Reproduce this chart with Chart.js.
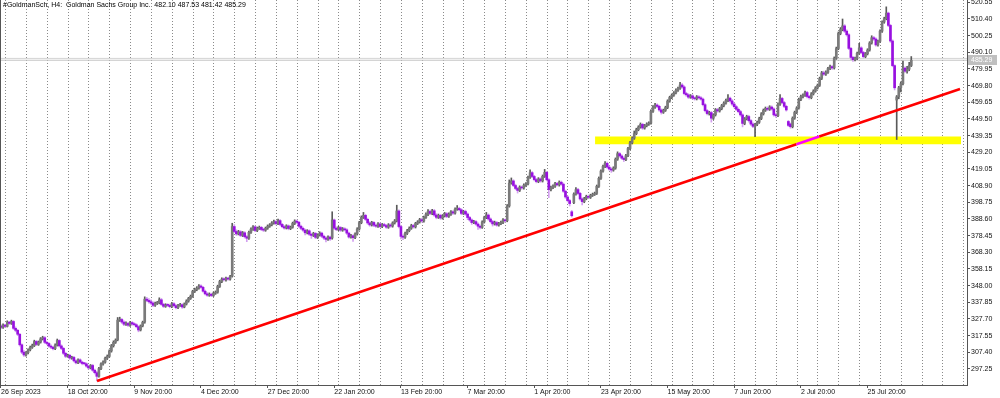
<!DOCTYPE html>
<html>
<head>
<meta charset="utf-8">
<title>#GoldmanSch, H4</title>
<script src="https://cdn.jsdelivr.net/npm/chart.js@4.4.1/dist/chart.umd.min.js"></script>
<style>
  body { margin: 0; background: #fff; }
  #wrap { position: relative; width: 1000px; height: 398px; }
  #title { position: absolute; left: 3px; top: 1px; font: 7px "Liberation Sans", Arial, sans-serif; color: #000; white-space: pre; pointer-events: none; }
</style>
</head>
<body>
<div id="wrap">
  <canvas id="chart" width="1000" height="398"></canvas>
  <div id="title">#GoldmanSch, H4:  Goldman Sachs Group Inc.  482.10 487.53 481.42 485.29</div>
</div>
<script>
// H4 bars (one entry per bar, oldest first)
var opens = [
  323.4,322.6,324.0,323.2,325.8,325.0,326.2,322.0,320.8,318.4,
  312.0,307.5,305.8,307.2,308.9,310.4,311.5,314.0,312.2,313.6,
  315.6,316.3,313.5,312.8,311.2,310.5,309.6,311.8,314.6,311.3,
  309.8,306.8,305.0,305.6,303.9,304.3,302.2,301.0,302.8,301.4,
  300.6,300.4,299.0,297.9,299.4,296.5,295.0,292.8,297.5,300.3,
  301.4,303.8,304.9,308.2,311.4,313.5,315.0,327.0,327.4,325.8,
  324.5,325.0,323.9,325.5,324.6,324.2,323.0,321.0,323.5,325.8,
  339.8,339.0,338.2,337.4,336.0,337.2,337.5,339.4,336.6,335.4,
  336.2,336.0,335.2,337.0,335.8,334.6,335.9,336.4,335.0,336.8,
  338.6,340.2,341.5,344.5,345.6,346.5,347.8,347.0,344.6,343.0,
  342.2,342.8,342.0,343.4,344.0,347.5,350.5,352.0,351.6,352.5,
  352.0,353.8,384.0,381.0,379.5,380.8,378.6,380.2,377.8,376.9,
  380.5,382.4,383.8,381.6,382.9,383.5,382.2,381.8,383.0,384.2,
  385.0,386.2,387.0,385.8,387.6,385.3,383.9,383.1,384.4,382.8,
  383.6,385.9,387.3,386.6,384.2,382.9,381.8,380.2,381.4,379.3,
  378.6,379.8,377.4,378.9,380.0,378.1,377.0,376.2,377.6,377.0,
  388.0,383.0,382.2,383.4,381.8,382.6,382.0,380.0,377.6,378.4,
  377.2,379.5,382.5,386.4,389.6,390.8,388.4,386.2,385.0,386.5,
  384.8,384.2,385.6,384.0,385.2,384.6,383.6,385.0,384.3,386.2,
  387.4,393.5,384.0,378.0,377.5,379.8,381.5,383.0,384.6,383.8,
  385.9,386.8,388.2,387.4,389.6,391.4,393.2,392.0,393.6,391.0,
  389.6,390.8,389.2,390.5,391.8,390.2,391.5,393.0,392.2,394.6,
  395.0,394.2,392.0,393.2,391.6,389.5,388.0,386.4,387.0,385.5,
  384.2,383.5,386.8,389.5,391.0,388.6,387.0,385.6,386.4,384.9,
  385.8,386.5,388.0,387.5,396.5,410.5,411.8,409.0,407.2,406.0,
  408.0,407.5,409.2,410.0,414.0,416.8,414.5,412.6,411.4,413.0,
  411.8,414.6,417.0,412.5,406.5,407.8,408.6,410.2,409.4,411.0,
  409.8,405.5,402.0,399.8,393.0,398.5,403.8,406.5,404.2,400.8,
  399.2,401.0,402.4,401.8,403.0,403.6,404.2,408.5,413.4,417.8,
  420.6,422.5,420.2,419.0,418.4,419.6,425.0,428.4,427.0,425.6,
  424.8,427.2,431.5,435.0,437.8,440.6,443.0,444.6,446.2,444.0,
  445.4,446.4,447.0,454.2,456.8,458.0,457.2,455.0,453.6,454.8,
  456.5,460.4,462.6,464.0,465.4,467.0,468.2,470.2,469.0,465.0,
  464.2,462.8,463.6,462.2,461.8,463.0,462.4,461.6,458.2,454.6,
  452.8,453.4,450.0,452.0,455.2,454.4,455.8,457.6,459.2,460.8,
  462.2,460.5,458.6,457.0,455.4,454.0,452.0,446.8,449.6,451.0,
  448.5,446.4,445.0,446.2,447.5,449.8,452.6,454.8,456.0,455.4,
  456.8,455.6,452.0,451.5,458.5,462.0,459.5,457.2,448.0,446.5,
  444.8,450.0,453.5,456.2,461.4,463.2,464.0,465.6,463.2,462.5,
  464.8,466.5,468.4,470.0,474.2,477.6,476.8,478.0,480.2,481.4,
  480.6,486.5,492.4,501.6,504.0,506.2,503.0,500.8,492.5,487.0,
  485.6,486.4,489.5,492.8,490.0,487.5,489.2,491.5,495.8,499.0,
  498.2,494.6,496.8,503.0,508.5,510.6,514.0,506.5,497.0,482.0,
  461.0,463.0,468.5,471.0,480.5,478.6,479.8,482.10
];
var highs = [
  324.2,324.7,324.5,326.6,326.3,327.0,326.8,322.9,321.4,318.9,
  312.6,308.4,307.8,309.6,311.2,312.4,314.8,314.6,314.3,316.4,
  317.2,317.0,314.2,313.4,312.0,311.1,312.5,315.5,315.1,312.0,
  310.4,307.5,306.3,306.2,305.0,304.9,302.9,303.5,303.4,302.0,
  301.3,301.0,299.7,300.0,300.1,297.2,295.8,298.2,301.0,302.2,
  304.5,305.8,308.9,312.2,314.4,315.6,328.6,328.8,328.0,326.6,
  325.9,325.6,326.3,326.1,325.4,324.8,323.6,324.1,326.4,341.2,
  340.9,340.1,339.3,338.2,338.0,338.4,340.6,340.2,337.3,337.0,
  337.0,336.8,337.8,337.7,336.5,336.6,337.2,337.0,337.5,339.4,
  340.9,342.3,345.2,346.5,347.4,348.6,348.5,347.6,345.3,343.8,
  343.6,343.4,344.1,344.8,348.3,351.3,352.8,352.7,353.2,353.1,
  354.3,386.0,385.2,382.0,381.7,381.5,381.0,380.9,378.5,381.3,
  383.2,384.6,384.4,383.7,384.3,384.1,383.0,383.7,385.0,385.8,
  387.0,387.9,387.6,388.5,388.2,385.9,384.6,385.1,385.0,384.3,
  386.7,388.1,388.0,387.2,384.9,383.6,382.5,382.1,382.0,380.0,
  380.5,380.4,379.6,380.8,380.6,378.8,377.8,378.4,378.2,393.0,
  388.6,383.8,384.2,384.0,383.4,383.3,382.7,380.6,379.2,379.0,
  380.2,383.3,387.2,390.5,392.6,391.5,389.1,387.0,387.2,387.1,
  385.5,386.4,386.2,385.9,386.0,385.3,385.8,385.7,386.9,388.3,
  397.0,394.2,384.8,379.0,380.6,382.3,383.8,385.4,385.3,386.6,
  387.6,389.0,389.1,390.4,392.3,394.3,394.0,394.5,394.4,391.8,
  391.6,391.5,391.3,392.6,392.5,392.3,393.8,393.7,395.4,396.8,
  395.8,394.9,393.9,394.0,392.3,390.2,388.7,387.8,387.7,386.2,
  384.9,387.5,390.3,392.6,391.7,389.3,387.8,387.3,387.1,386.5,
  387.3,388.8,388.6,397.4,412.4,413.6,412.5,409.8,408.0,408.8,
  408.7,410.0,410.8,414.8,418.6,417.5,415.2,413.3,413.8,413.7,
  415.4,418.8,417.7,413.2,408.6,409.4,411.0,410.9,411.8,411.7,
  410.5,406.2,402.7,400.5,393.8,404.6,407.8,407.2,404.9,401.5,
  401.8,403.1,403.2,403.7,404.4,405.0,409.3,414.2,418.6,421.5,
  423.5,423.2,421.0,419.8,420.4,425.8,429.5,429.1,427.8,426.4,
  428.0,432.3,435.9,438.7,442.2,443.9,445.4,447.1,446.9,446.2,
  447.2,447.8,455.1,457.6,459.0,458.7,457.9,455.7,455.5,457.3,
  461.2,463.4,464.8,466.2,467.9,469.0,471.8,471.0,469.7,465.8,
  464.9,464.4,464.3,462.9,463.8,463.7,463.1,462.3,458.9,455.3,
  454.2,454.1,452.7,455.9,456.0,456.6,458.4,460.0,461.6,464.4,
  462.9,461.3,459.4,457.7,456.2,454.8,452.7,450.4,451.8,451.8,
  449.2,447.2,446.9,448.3,450.6,453.4,455.6,456.8,456.9,457.6,
  457.5,456.3,452.8,459.3,464.4,462.7,460.2,457.9,448.6,447.1,
  450.8,454.3,457.0,462.2,464.1,464.8,466.5,466.3,463.9,465.6,
  467.3,469.2,470.8,475.0,478.5,478.6,478.8,481.0,482.3,482.1,
  487.3,493.3,502.5,505.2,510.4,507.0,503.8,501.5,493.2,487.7,
  487.2,490.3,495.6,493.5,490.7,490.0,492.3,496.6,500.2,499.8,
  498.9,497.6,503.8,509.3,511.5,517.8,514.6,507.2,497.7,482.5,
  463.8,469.4,472.2,484.8,481.3,481.5,484.0,487.53
];
var lows = [
  321.8,322.0,322.6,322.8,324.3,324.4,321.3,319.9,317.6,311.2,
  306.6,304.9,305.1,306.5,308.3,309.8,310.9,311.5,311.6,313.0,
  314.9,312.8,312.0,310.5,309.7,308.8,309.0,311.2,310.6,309.0,
  306.0,304.2,304.4,303.1,303.2,301.5,300.3,300.5,300.8,299.8,
  299.7,298.3,297.1,297.3,295.8,294.2,290.0,292.2,296.8,299.6,
  300.8,303.0,304.3,307.5,310.6,312.8,314.4,326.2,325.0,323.6,
  323.8,323.2,323.2,323.9,323.5,322.3,319.9,320.4,322.9,325.1,
  338.2,337.4,336.6,335.2,335.4,336.5,336.9,336.0,334.7,334.8,
  335.3,334.5,334.6,335.1,333.9,334.0,335.3,334.2,334.5,336.2,
  337.9,339.6,340.9,343.8,344.9,345.8,346.4,344.0,342.3,341.5,
  341.5,341.3,341.4,342.7,343.4,346.9,349.8,350.9,350.8,351.3,
  351.4,353.2,380.2,378.6,378.9,377.9,377.9,377.0,374.8,376.2,
  379.8,381.7,380.9,380.9,382.2,381.5,381.0,381.1,382.3,383.5,
  384.4,385.5,385.0,385.1,384.6,383.2,382.4,382.5,382.0,382.1,
  383.0,385.2,385.9,383.5,382.1,381.0,378.9,379.5,378.5,376.8,
  377.9,376.6,376.7,378.2,377.3,376.2,374.6,375.5,375.6,376.3,
  382.2,381.5,381.5,381.0,381.1,381.3,379.2,376.9,376.9,375.0,
  376.6,378.8,381.8,385.7,388.9,387.7,385.4,384.2,384.3,384.0,
  383.4,383.5,383.3,383.3,383.9,382.9,382.9,383.5,383.6,385.5,
  386.8,383.2,376.4,376.0,376.8,379.1,380.8,382.3,383.0,383.1,
  385.2,386.1,386.6,386.7,388.9,390.7,391.3,391.2,390.2,388.7,
  388.9,388.4,388.5,389.8,389.4,389.5,390.8,391.4,391.5,393.9,
  393.5,391.2,391.3,390.9,388.2,387.2,385.3,385.7,384.8,382.3,
  382.6,382.9,386.1,388.8,387.8,386.2,384.3,384.9,384.2,384.2,
  385.1,385.8,386.7,386.9,395.8,409.8,408.3,406.4,404.4,405.3,
  406.7,406.8,408.5,409.3,413.3,413.8,411.8,410.6,410.7,411.0,
  411.1,413.9,411.8,401.6,405.7,407.1,407.9,408.7,408.6,409.1,
  404.8,401.2,399.0,396.5,389.8,397.9,403.1,403.5,400.1,397.2,
  398.5,400.3,401.1,401.1,402.3,402.9,403.5,407.8,412.7,417.1,
  419.9,419.5,418.3,417.0,417.7,418.9,424.3,426.2,424.9,423.6,
  424.1,426.5,430.8,434.3,437.1,439.9,442.3,443.9,443.2,443.3,
  444.7,445.6,446.3,453.5,456.0,456.4,454.2,452.5,452.9,454.1,
  455.8,459.7,461.9,463.3,464.7,466.3,467.5,468.2,464.2,463.3,
  462.0,462.1,461.5,461.0,461.1,461.6,460.9,457.4,453.8,452.0,
  451.9,447.6,449.2,451.3,453.6,453.7,455.1,456.9,458.5,460.1,
  459.8,457.8,456.2,454.6,453.2,451.2,444.7,446.0,448.9,447.6,
  445.6,444.2,438.8,445.5,446.8,449.1,451.9,454.1,454.6,454.7,
  454.9,451.2,450.4,450.9,457.8,458.8,456.4,454.3,444.9,443.9,
  444.1,449.3,452.8,455.5,460.6,462.4,463.3,462.4,461.6,461.8,
  464.1,465.8,467.7,469.3,473.5,476.0,476.0,477.3,479.5,479.7,
  479.9,485.8,491.7,500.8,503.2,502.2,500.0,491.8,485.8,484.6,
  484.9,485.7,488.8,489.2,486.7,486.8,488.5,490.8,495.1,497.4,
  493.8,493.9,496.1,502.3,507.8,509.9,505.7,496.2,481.3,467.2,
  437.0,461.8,466.0,470.3,477.8,477.4,478.9,481.42
];
var closes = [
  322.6,324.0,323.2,325.8,325.0,326.2,322.0,320.8,318.4,312.0,
  307.5,305.8,307.2,308.9,310.4,311.5,314.0,312.2,313.6,315.6,
  316.3,313.5,312.8,311.2,310.5,309.6,311.8,314.6,311.3,309.8,
  306.8,305.0,305.6,303.9,304.3,302.2,301.0,302.8,301.4,300.6,
  300.4,299.0,297.9,299.4,296.5,295.0,292.8,297.5,300.3,301.4,
  303.8,304.9,308.2,311.4,313.5,314.8,327.0,327.4,325.8,324.5,
  325.0,323.9,325.5,324.6,324.2,323.0,321.0,323.5,325.6,339.8,
  339.0,338.2,337.4,336.0,337.2,337.5,339.4,336.6,335.4,336.2,
  336.0,335.2,337.0,335.8,334.6,335.9,336.4,335.0,336.8,338.6,
  340.2,341.5,344.5,345.6,346.5,347.8,347.0,344.6,343.0,342.2,
  342.8,342.0,343.4,344.0,347.5,350.5,352.0,351.6,352.5,352.0,
  353.5,384.0,381.0,379.5,380.8,378.6,380.2,377.8,376.9,380.5,
  382.4,383.8,381.6,382.9,383.5,382.2,381.8,383.0,384.2,385.0,
  386.2,387.0,385.8,387.6,385.3,383.9,383.1,384.4,382.8,383.6,
  385.9,387.3,386.6,384.2,382.9,381.8,380.2,381.4,379.3,378.6,
  379.8,377.4,378.9,380.0,378.1,377.0,376.2,377.6,376.5,388.0,
  383.0,382.2,383.4,381.8,382.6,382.0,380.0,377.6,378.4,377.2,
  379.5,382.5,386.4,389.6,390.8,388.4,386.2,385.0,386.5,384.8,
  384.2,385.6,384.0,385.2,384.6,383.6,385.0,384.3,386.2,387.4,
  393.5,384.0,378.0,377.5,379.8,381.5,383.0,384.6,383.8,385.9,
  386.8,388.2,387.4,389.6,391.4,393.2,392.0,393.6,391.0,389.6,
  390.8,389.2,390.5,391.8,390.2,391.5,393.0,392.2,394.6,395.0,
  394.2,392.0,393.2,391.6,389.5,388.0,386.4,387.0,385.5,384.2,
  383.5,386.8,389.5,391.0,388.6,387.0,385.6,386.4,384.9,385.8,
  386.5,388.0,387.5,396.5,410.5,411.8,409.0,407.2,406.0,408.0,
  407.5,409.2,410.0,414.0,416.8,414.5,412.6,411.4,413.0,411.8,
  414.6,417.0,412.5,406.5,407.8,408.6,410.2,409.4,411.0,409.8,
  405.5,402.0,399.8,398.0,390.6,403.8,406.5,404.2,400.8,399.2,
  401.0,402.4,401.8,403.0,403.6,404.2,408.5,413.4,417.8,420.6,
  422.5,420.2,419.0,418.4,419.6,425.0,428.4,427.0,425.6,424.8,
  427.2,431.5,435.0,437.8,440.6,443.0,444.6,446.2,444.0,445.4,
  446.4,447.0,454.2,456.8,458.0,457.2,455.0,453.6,454.8,456.5,
  460.4,462.6,464.0,465.4,467.0,468.2,470.2,469.0,465.0,464.2,
  462.8,463.6,462.2,461.8,463.0,462.4,461.6,458.2,454.6,452.8,
  453.4,450.0,452.0,455.2,454.4,455.8,457.6,459.2,460.8,462.2,
  460.5,458.6,457.0,455.4,454.0,452.0,446.8,449.6,451.0,448.5,
  446.4,445.0,446.2,447.5,449.8,452.6,454.8,456.0,455.4,456.8,
  455.6,452.0,451.5,458.5,462.0,459.5,457.2,455.0,445.6,444.8,
  450.0,453.5,456.2,461.4,463.2,464.0,465.6,463.2,462.5,464.8,
  466.5,468.4,470.0,474.2,477.6,476.8,478.0,480.2,481.4,480.6,
  486.5,492.4,501.6,504.0,506.2,503.0,500.8,492.5,487.0,485.6,
  486.4,489.5,492.8,490.0,487.5,489.2,491.5,495.8,499.0,498.2,
  494.6,496.8,503.0,508.5,510.6,514.0,506.5,497.0,482.0,468.5,
  463.0,468.5,471.0,480.5,478.6,479.8,482.1,485.29
];

// time axis: a label every 32 bars
var dateLabels = ['26 Sep 2023','18 Oct 20:00','9 Nov 20:00','4 Dec 20:00','27 Dec 20:00',
  '22 Jan 20:00','13 Feb 20:00','7 Mar 20:00','1 Apr 20:00','23 Apr 20:00',
  '15 May 20:00','7 Jun 20:00','2 Jul 20:00','25 Jul 20:00'];
var labelStep = 32;

var priceTicks = [297.25,307.40,317.55,327.70,337.85,348.00,358.15,368.30,378.45,388.60,
  398.75,408.90,419.05,429.20,439.35,449.50,459.65,469.80,479.95,490.10,500.25,510.40,520.55];

// drawn objects (bar index / price)
var trendStart = [46.1, 290.0];
var trendEnd = [460.4, 467.8];
var zoneBars = [285.2, 460.9];
var zonePrices = [434.1, 438.8];
var bidAsk = [485.29, 486.4];

var xMin = -0.48, xMax = 463.75;
var yMin = 287.5, yMax = 521.97;

var upBody = '#7a7a7a', upWick = '#5a5a5a';
var dnBody = '#9810e0', dnWick = '#d3a0f0';

var wicks = [], bodies = [], wickColors = [], bodyColors = [];
for (var i = 0; i < closes.length; i++) {
  var up = closes[i] >= opens[i];
  wicks.push({x: i, y: [lows[i], highs[i]]});
  bodies.push({x: i, y: [opens[i], closes[i]]});
  wickColors.push(up ? upWick : dnWick);
  bodyColors.push(up ? upBody : dnBody);
}

// trendline turns magenta where it crosses the yellow zone
var slope = (trendEnd[1] - trendStart[1]) / (trendEnd[0] - trendStart[0]);
function barOnTrend(p) { return trendStart[0] + (p - trendStart[1]) / slope; }
var trendPts = [
  {x: trendStart[0], y: trendStart[1]},
  {x: barOnTrend(zonePrices[0]), y: zonePrices[0]},
  {x: barOnTrend(zonePrices[1]), y: zonePrices[1]},
  {x: trendEnd[0], y: trendEnd[1]}
];

var gridBars = [];
for (var g = 7.2; g < xMax; g += 10) gridBars.push(g);

var font = {family: '"Liberation Sans", Arial, sans-serif', size: 7};

var overlay = {
  id: 'overlay',
  afterDraw: function(chart) {
    var ctx = chart.ctx, a = chart.chartArea, ys = chart.scales.y;
    var last = closes[closes.length - 1];
    ctx.save();
    ctx.strokeStyle = '#555';
    ctx.lineWidth = 1;
    ctx.beginPath();
    ctx.moveTo(a.left + 0.5, a.top);
    ctx.lineTo(a.left + 0.5, a.bottom);
    ctx.stroke();
    var py = Math.round(ys.getPixelForValue(last));
    ctx.fillStyle = '#c0c0c0';
    ctx.fillRect(a.right + 1, py - 5, 29, 10);
    ctx.fillStyle = '#fff';
    ctx.font = '7px "Liberation Sans", Arial, sans-serif';
    ctx.textBaseline = 'middle';
    ctx.fillText(last.toFixed(2), a.right + 4, py + 0.5);
    ctx.restore();
  }
};

new Chart(document.getElementById('chart'), {
  type: 'bar',
  data: {
    datasets: [
      {type: 'line', data: [{x: zoneBars[0], y: zonePrices[1]}, {x: zoneBars[1], y: zonePrices[1]}],
        borderColor: 'rgba(0,0,0,0)', pointRadius: 0, fill: false, order: 6},
      {type: 'line', data: [{x: zoneBars[0], y: zonePrices[0]}, {x: zoneBars[1], y: zonePrices[0]}],
        borderColor: 'rgba(0,0,0,0)', backgroundColor: '#ffff00', pointRadius: 0, fill: '-1', order: 6},
      {type: 'line', data: [{x: xMin, y: bidAsk[0]}, {x: xMax, y: bidAsk[0]}],
        borderColor: '#c4c4c4', borderWidth: 1, pointRadius: 0, order: 5},
      {type: 'line', data: [{x: xMin, y: bidAsk[1]}, {x: xMax, y: bidAsk[1]}],
        borderColor: '#d4d4d4', borderWidth: 1, pointRadius: 0, order: 5},
      {data: wicks, backgroundColor: wickColors, barThickness: 1, grouped: false, order: 3},
      {data: bodies, backgroundColor: bodyColors, barThickness: 2, minBarLength: 1, grouped: false, order: 2},
      {type: 'line', data: trendPts, borderColor: '#ff0000', borderWidth: 2.6, pointRadius: 0, order: 1,
        segment: {borderColor: function(c) { return c.p0DataIndex === 1 ? '#ff00ff' : '#ff0000'; }}}
    ]
  },
  options: {
    responsive: false,
    animation: false,
    events: [],
    layout: {padding: 0},
    plugins: {legend: {display: false}, tooltip: {enabled: false}},
    scales: {
      x: {
        type: 'linear', min: xMin, max: xMax, offset: false, position: 'bottom',
        grid: {drawOnChartArea: false, drawTicks: true, tickLength: 3, tickColor: '#555', offset: false},
        border: {display: true, color: '#555'},
        ticks: {
          align: 'start', maxRotation: 0, minRotation: 0, autoSkip: false, padding: 0,
          color: '#111', font: font,
          callback: function(v, idx) { return dateLabels[idx]; }
        },
        afterBuildTicks: function(s) { s.ticks = dateLabels.map(function(d, k) { return {value: k * labelStep}; }); },
        afterFit: function(s) { s.height = 13; s.paddingLeft = 0; s.paddingRight = 0; }
      },
      x2: {
        type: 'linear', min: xMin, max: xMax, offset: false, position: 'bottom',
        grid: {drawOnChartArea: true, drawTicks: false, color: '#8a8a8a', lineWidth: 1},
        border: {display: false, dash: [1, 2]},
        ticks: {display: false},
        afterBuildTicks: function(s) { s.ticks = gridBars.map(function(v) { return {value: v}; }); },
        afterFit: function(s) { s.height = 0; s.paddingLeft = 0; s.paddingRight = 0; }
      },
      y: {
        type: 'linear', position: 'right', min: yMin, max: yMax,
        grid: {drawOnChartArea: false, drawTicks: true, tickLength: 3, tickColor: '#555'},
        border: {display: true, color: '#555'},
        ticks: {crossAlign: 'near', padding: 1, color: '#111', font: font,
          callback: function(v) { return v.toFixed(2); }},
        afterBuildTicks: function(s) { s.ticks = priceTicks.map(function(v) { return {value: v}; }); },
        afterFit: function(s) { s.width = 33; s.paddingTop = 0; s.paddingBottom = 0; }
      }
    }
  },
  plugins: [overlay]
});
</script>
</body>
</html>
